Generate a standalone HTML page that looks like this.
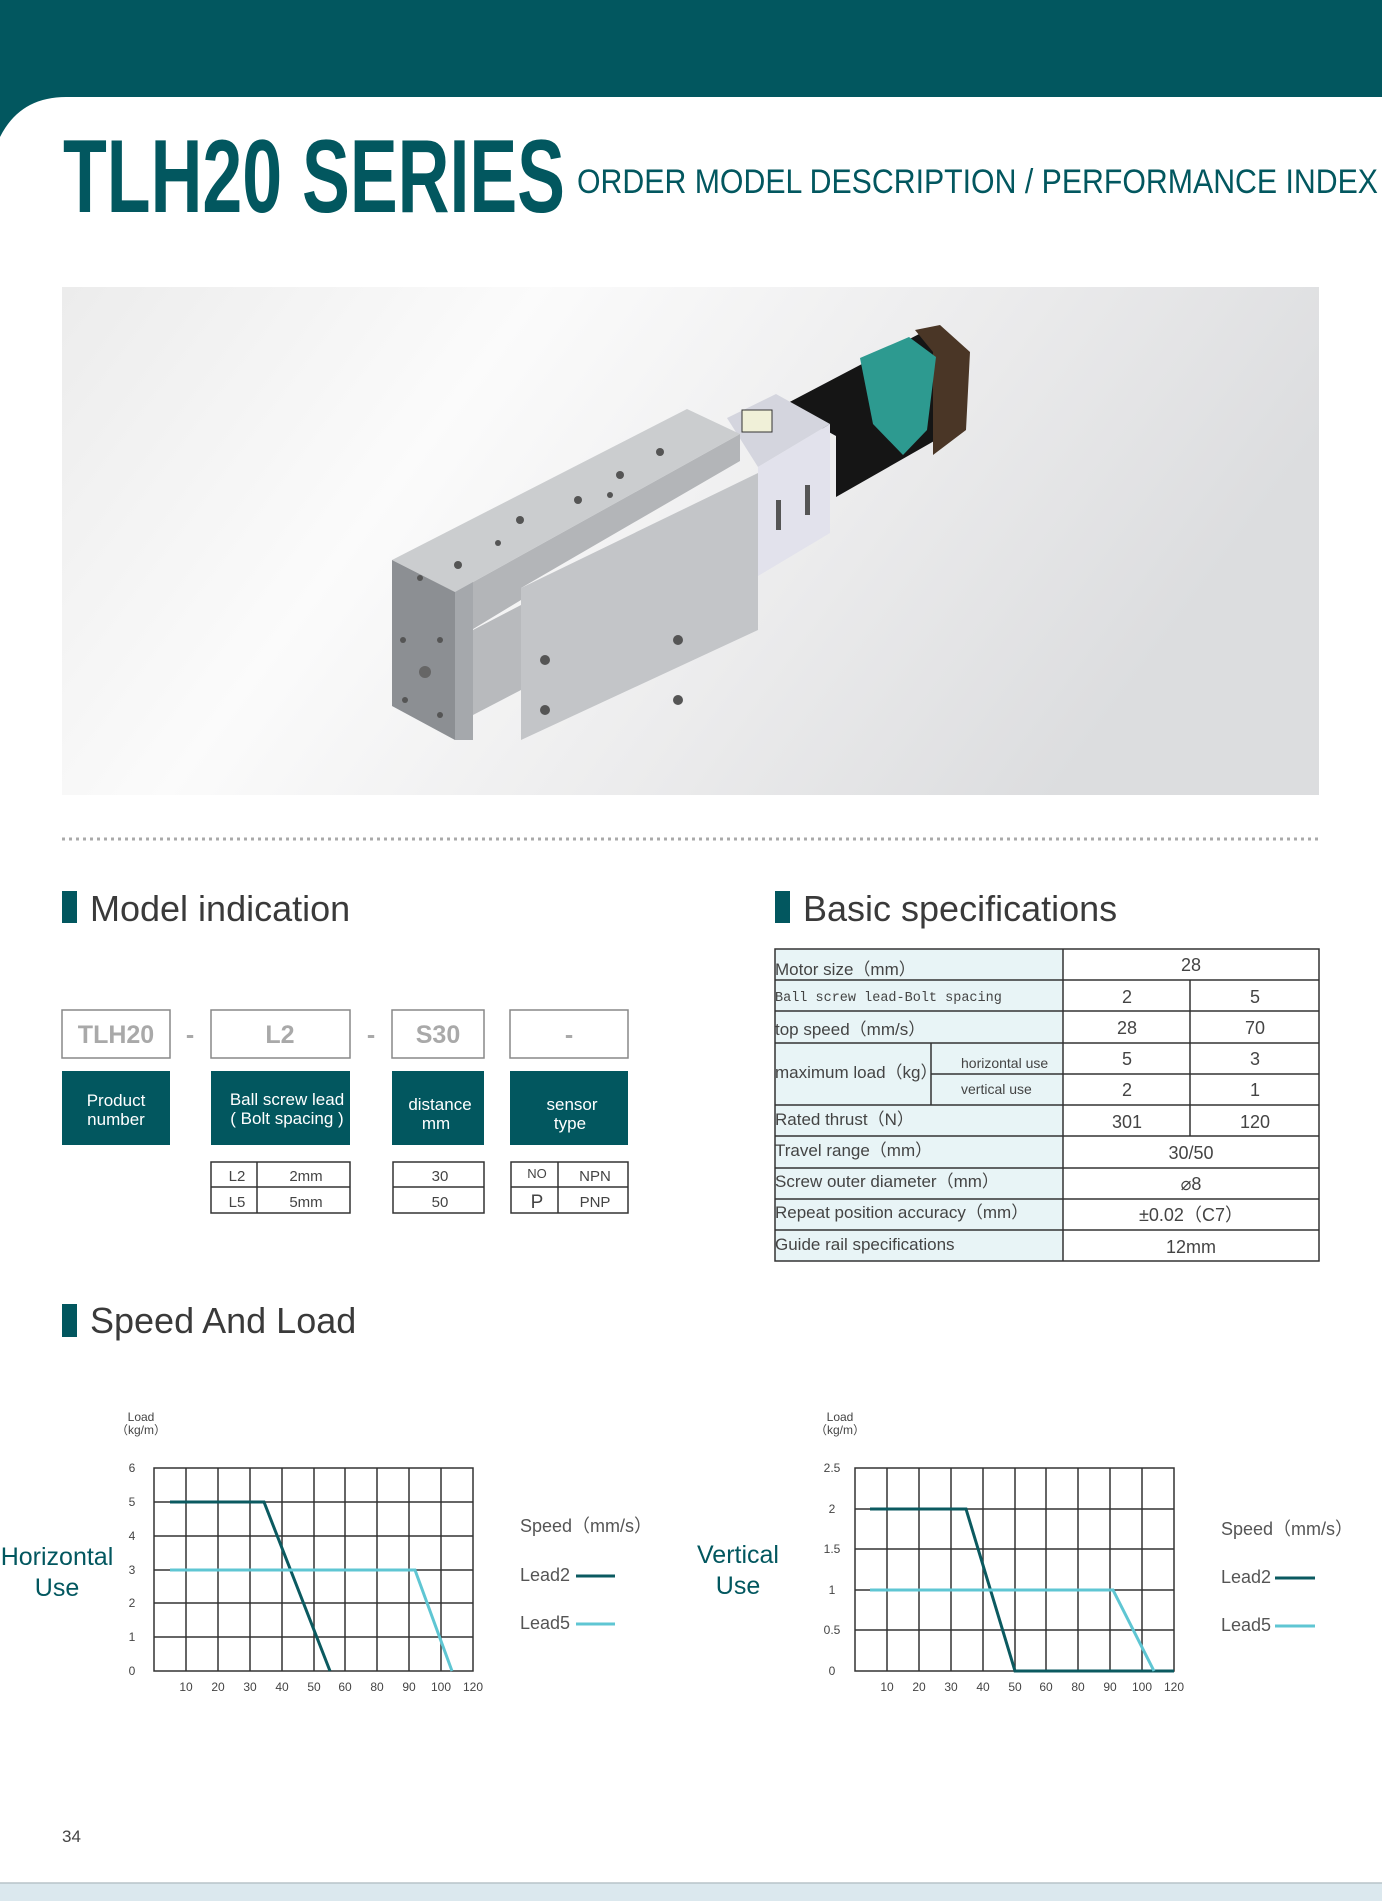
<!DOCTYPE html>
<html><head><meta charset="utf-8"><style>
html,body{margin:0;padding:0;background:#fff;}
body{width:1382px;height:1901px;overflow:hidden;position:relative;}
svg{position:absolute;left:0;top:0;}
text{font-family:"Liberation Sans",Arial,sans-serif;}
</style></head><body>
<svg width="1382" height="1901" viewBox="0 0 1382 1901" xmlns="http://www.w3.org/2000/svg">
<defs>
<linearGradient id="bg" x1="0" y1="0" x2="1" y2="0.3">
<stop offset="0" stop-color="#ececec"/><stop offset="0.35" stop-color="#fbfbfb"/><stop offset="0.7" stop-color="#ebebec"/><stop offset="1" stop-color="#dcdddf"/>
</linearGradient>
</defs>
<!-- header -->
<rect x="0" y="0" width="1382" height="140" fill="#02575f"/>
<path d="M0,140 L0,137 Q20,97 66,97 L1382,97 L1382,140 Z" fill="#fff"/>
<rect x="0" y="139" width="1382" height="1762" fill="#fff"/>
<text x="63" y="212" font-size="104" font-weight="bold" fill="#02575f" textLength="502" lengthAdjust="spacingAndGlyphs">TLH20 SERIES</text>
<text x="577" y="193" font-size="34" fill="#02575f" textLength="801" lengthAdjust="spacingAndGlyphs">ORDER MODEL DESCRIPTION / PERFORMANCE INDEX</text>

<!-- photo -->
<rect x="62" y="287" width="1257" height="508" fill="url(#bg)"/>
<polygon points="782,406 921,333 964,364 964,424 836,497 836,436" fill="#151515"/>
<polygon points="915,330 940,325 970,352 966,430 933,455 933,352" fill="#4a3626"/>
<polygon points="860,358 909,337 936,357 927,430 903,455 873,424" fill="#2d9a90"/>
<polygon points="727,418 776,394 830,424 758,467" fill="#d4d5de"/>
<polygon points="758,467 830,424 830,533 758,576" fill="#e2e2ec"/>
<polygon points="521,588 758,473 758,630 521,740" fill="#c3c5c8"/>
<polygon points="455,592 740,434 740,461 521,588 521,600 455,640" fill="#b3b5b8"/>
<polygon points="392,560 687,409 740,434 455,592" fill="#cbcdcf"/>
<polygon points="392,560 455,592 455,740 392,706" fill="#8c8f93"/>
<polygon points="455,592 473,582 473,740 455,740" fill="#a5a8ac"/>
<polygon points="473,630 521,605 521,690 473,715" fill="#b8babd"/>
<rect x="742" y="410" width="30" height="22" fill="#f0f0d8" stroke="#333" stroke-width="1"/>
<g fill="#555">
<circle cx="420" cy="578" r="3"/><circle cx="458" cy="565" r="4"/><circle cx="498" cy="543" r="3"/><circle cx="520" cy="520" r="4"/>
<circle cx="578" cy="500" r="4"/><circle cx="620" cy="475" r="4"/><circle cx="660" cy="452" r="4"/><circle cx="610" cy="495" r="3"/>
<circle cx="545" cy="660" r="5"/><circle cx="678" cy="640" r="5"/><circle cx="545" cy="710" r="5"/><circle cx="678" cy="700" r="5"/>
<circle cx="425" cy="672" r="6" fill="#666"/><circle cx="403" cy="640" r="3"/><circle cx="440" cy="640" r="3"/><circle cx="405" cy="700" r="3"/><circle cx="440" cy="715" r="3"/>
</g>
<rect x="776" y="500" width="5" height="30" fill="#555"/><rect x="805" y="485" width="5" height="30" fill="#555"/>

<!-- dotted line -->
<line x1="62" y1="839" x2="1320" y2="839" stroke="#aaa" stroke-width="3" stroke-dasharray="3,4"/>

<!-- section headers -->
<rect x="62" y="891" width="15" height="32" fill="#02575f"/>
<text x="90" y="921" font-size="36" fill="#3a3a3a">Model indication</text>
<rect x="775" y="891" width="15" height="32" fill="#02575f"/>
<text x="803" y="921" font-size="36" fill="#3a3a3a">Basic specifications</text>
<rect x="62" y="1304" width="15" height="33" fill="#02575f"/>
<text x="90" y="1333" font-size="36" fill="#3a3a3a">Speed And Load</text>

<!-- model boxes -->
<g fill="#fff" stroke="#888" stroke-width="1.5">
<rect x="62" y="1010" width="108" height="48"/><rect x="211" y="1010" width="139" height="48"/>
<rect x="392" y="1010" width="92" height="48"/><rect x="510" y="1010" width="118" height="48"/>
</g>
<g font-size="25" font-weight="bold" fill="#a9a9a9" text-anchor="middle">
<text x="116" y="1043">TLH20</text><text x="280" y="1043">L2</text><text x="438" y="1043">S30</text>
<text x="569" y="1043">-</text><text x="190" y="1043">-</text><text x="371" y="1043">-</text>
</g>
<g fill="#02575f">
<rect x="62" y="1071" width="108" height="74"/><rect x="211" y="1071" width="139" height="74"/>
<rect x="392" y="1071" width="92" height="74"/><rect x="510" y="1071" width="118" height="74"/>
</g>
<g font-size="17" fill="#fff" text-anchor="middle">
<text x="116" y="1106">Product</text><text x="116" y="1125">number</text>
<text x="287" y="1105">Ball screw lead</text><text x="287" y="1124">( Bolt spacing )</text>
<text x="440" y="1110">distance</text><text x="436" y="1129">mm</text>
<text x="572" y="1110">sensor</text><text x="570" y="1129">type</text>
</g>
<g fill="none" stroke="#333" stroke-width="1.5">
<rect x="211" y="1162" width="139" height="51"/><line x1="211" y1="1187" x2="350" y2="1187"/><line x1="257" y1="1162" x2="257" y2="1213"/>
<rect x="393" y="1162" width="91" height="51"/><line x1="393" y1="1187" x2="484" y2="1187"/>
<rect x="511" y="1162" width="117" height="51"/><line x1="511" y1="1187" x2="628" y2="1187"/><line x1="558" y1="1162" x2="558" y2="1213"/>
</g>
<g font-size="15" fill="#444" text-anchor="middle">
<text x="237" y="1181">L2</text><text x="306" y="1181">2mm</text>
<text x="237" y="1207">L5</text><text x="306" y="1207">5mm</text>
<text x="440" y="1181">30</text><text x="440" y="1207">50</text>
<text x="537" y="1178" font-size="13">NO</text><text x="595" y="1181">NPN</text>
<text x="537" y="1208" font-size="19">P</text><text x="595" y="1207">PNP</text>
</g>

<!-- spec table -->
<rect x="775" y="949" width="288" height="312" fill="#e8f4f6"/>
<g fill="none" stroke="#333" stroke-width="1.5">
<rect x="775" y="949" width="544" height="312"/>
<line x1="775" y1="980" x2="1319" y2="980"/><line x1="775" y1="1011" x2="1319" y2="1011"/>
<line x1="775" y1="1043" x2="1319" y2="1043"/><line x1="931" y1="1074" x2="1319" y2="1074"/>
<line x1="775" y1="1105" x2="1319" y2="1105"/><line x1="775" y1="1136" x2="1319" y2="1136"/>
<line x1="775" y1="1168" x2="1319" y2="1168"/><line x1="775" y1="1199" x2="1319" y2="1199"/>
<line x1="775" y1="1230" x2="1319" y2="1230"/>
<line x1="1063" y1="949" x2="1063" y2="1261"/><line x1="1190" y1="980" x2="1190" y2="1136"/>
<line x1="931" y1="1043" x2="931" y2="1105"/>
</g>
<g font-size="17" fill="#444">
<text x="775" y="975">Motor size（mm）</text>
<text x="775" y="1001" style="font-family:'Liberation Mono','DejaVu Sans Mono',monospace;font-size:13.5px">Ball screw lead-Bolt spacing</text>
<text x="775" y="1035">top speed（mm/s）</text>
<text x="775" y="1078">maximum load（kg）</text>
<text x="961" y="1068" font-size="14">horizontal use</text>
<text x="961" y="1094" font-size="14">vertical use</text>
<text x="775" y="1125">Rated thrust（N）</text>
<text x="775" y="1156">Travel range（mm）</text>
<text x="775" y="1187">Screw outer diameter（mm）</text>
<text x="775" y="1218">Repeat position accuracy（mm）</text>
<text x="775" y="1250">Guide rail specifications</text>
</g>
<g font-size="18" fill="#444" text-anchor="middle">
<text x="1191" y="971">28</text>
<text x="1127" y="1003">2</text><text x="1255" y="1003">5</text>
<text x="1127" y="1034">28</text><text x="1255" y="1034">70</text>
<text x="1127" y="1065">5</text><text x="1255" y="1065">3</text>
<text x="1127" y="1096">2</text><text x="1255" y="1096">1</text>
<text x="1127" y="1128">301</text><text x="1255" y="1128">120</text>
<text x="1191" y="1159">30/50</text>
<text x="1191" y="1190">⌀8</text>
<text x="1191" y="1221">±0.02（C7）</text>
<text x="1191" y="1253">12mm</text>
</g>

<!-- Horizontal chart -->
<g stroke="#333" stroke-width="1.5" fill="none">
<rect x="154" y="1468" width="319" height="203"/>
<path d="M186,1468V1671M218,1468V1671M250,1468V1671M282,1468V1671M314,1468V1671M345,1468V1671M377,1468V1671M409,1468V1671M441,1468V1671"/>
<path d="M154,1502H473M154,1536H473M154,1570H473M154,1603H473M154,1637H473"/>
</g>
<polyline points="170,1502 264,1502 330,1671" fill="none" stroke="#0b5a60" stroke-width="3"/>
<polyline points="170,1570 415,1570 452,1671" fill="none" stroke="#5fc6d3" stroke-width="3"/>
<g font-size="12" fill="#444" text-anchor="middle">
<text x="141" y="1421">Load</text><text x="141" y="1434">（kg/m）</text>
<text x="132" y="1472">6</text><text x="132" y="1506">5</text><text x="132" y="1540">4</text><text x="132" y="1574">3</text><text x="132" y="1607">2</text><text x="132" y="1641">1</text><text x="132" y="1675">0</text>
<text x="186" y="1691">10</text><text x="218" y="1691">20</text><text x="250" y="1691">30</text><text x="282" y="1691">40</text><text x="314" y="1691">50</text><text x="345" y="1691">60</text><text x="377" y="1691">80</text><text x="409" y="1691">90</text><text x="441" y="1691">100</text><text x="473" y="1691">120</text>
</g>
<g font-size="25" fill="#02575f" text-anchor="middle"><text x="57" y="1565">Horizontal</text><text x="57" y="1596">Use</text></g>
<g font-size="18" fill="#555"><text x="520" y="1532">Speed（mm/s）</text><text x="520" y="1581">Lead2</text><text x="520" y="1629">Lead5</text></g>
<line x1="576" y1="1576" x2="615" y2="1576" stroke="#0b5a60" stroke-width="3"/>
<line x1="576" y1="1624" x2="615" y2="1624" stroke="#5fc6d3" stroke-width="3"/>

<!-- Vertical chart -->
<g stroke="#333" stroke-width="1.5" fill="none">
<rect x="855" y="1468" width="319" height="203"/>
<path d="M887,1468V1671M919,1468V1671M951,1468V1671M983,1468V1671M1015,1468V1671M1046,1468V1671M1078,1468V1671M1110,1468V1671M1142,1468V1671"/>
<path d="M855,1509H1174M855,1549H1174M855,1590H1174M855,1630H1174"/>
</g>
<polyline points="870,1509 966,1509 1015,1671 1174,1671" fill="none" stroke="#0b5a60" stroke-width="3"/>
<polyline points="870,1590 1113,1590 1154,1671" fill="none" stroke="#5fc6d3" stroke-width="3"/>
<g font-size="12" fill="#444" text-anchor="middle">
<text x="840" y="1421">Load</text><text x="840" y="1434">（kg/m）</text>
<text x="832" y="1472">2.5</text><text x="832" y="1513">2</text><text x="832" y="1553">1.5</text><text x="832" y="1594">1</text><text x="832" y="1634">0.5</text><text x="832" y="1675">0</text>
<text x="887" y="1691">10</text><text x="919" y="1691">20</text><text x="951" y="1691">30</text><text x="983" y="1691">40</text><text x="1015" y="1691">50</text><text x="1046" y="1691">60</text><text x="1078" y="1691">80</text><text x="1110" y="1691">90</text><text x="1142" y="1691">100</text><text x="1174" y="1691">120</text>
</g>
<g font-size="25" fill="#02575f" text-anchor="middle"><text x="738" y="1563">Vertical</text><text x="738" y="1594">Use</text></g>
<g font-size="18" fill="#555"><text x="1221" y="1535">Speed（mm/s）</text><text x="1221" y="1583">Lead2</text><text x="1221" y="1631">Lead5</text></g>
<line x1="1275" y1="1578" x2="1315" y2="1578" stroke="#0b5a60" stroke-width="3"/>
<line x1="1275" y1="1626" x2="1315" y2="1626" stroke="#5fc6d3" stroke-width="3"/>

<!-- footer -->
<text x="62" y="1842" font-size="17" fill="#444">34</text>
<rect x="0" y="1883" width="1382" height="18" fill="#dbe8ee"/>
<line x1="0" y1="1883" x2="1382" y2="1883" stroke="#b8c4c8" stroke-width="1.5"/>
</svg>
</body></html>
